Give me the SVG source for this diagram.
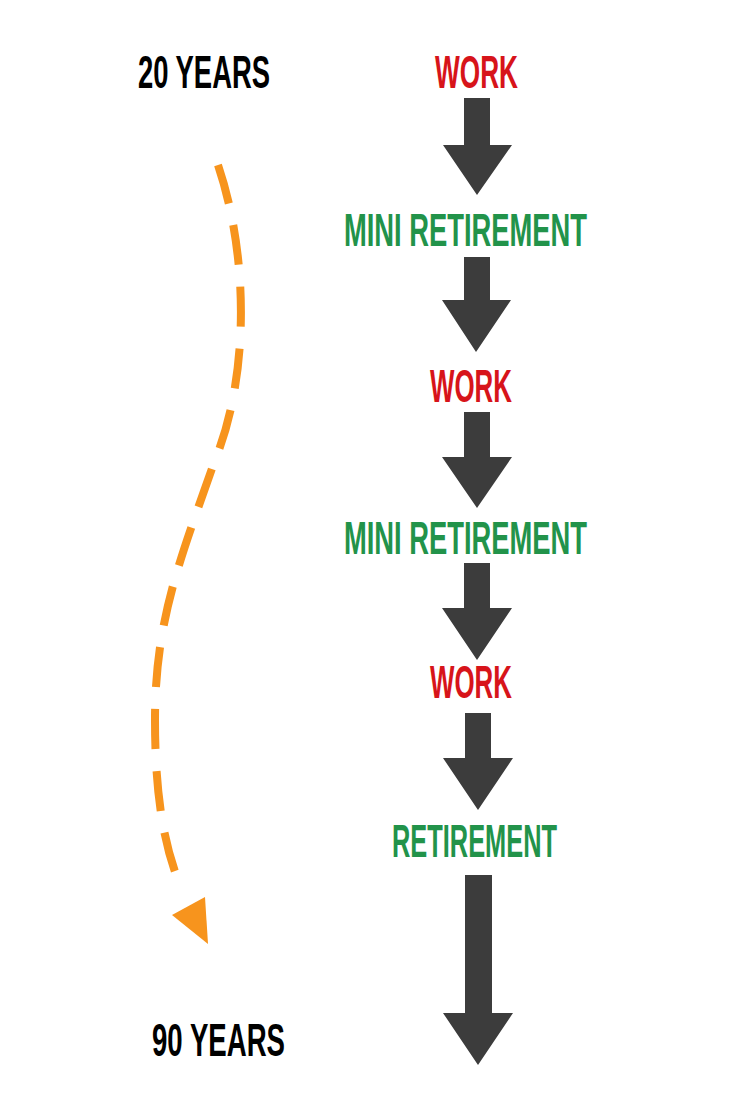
<svg xmlns="http://www.w3.org/2000/svg" width="750" height="1120" viewBox="0 0 750 1120">
<style>
text{font-family:"Liberation Sans Narrow","Liberation Sans",sans-serif;font-size:47px;font-weight:bold}
.k{fill:#000}.r{fill:#d7141a}.g{fill:#22934a}
.a{fill:#3c3c3c}
</style>
<rect width="750" height="1120" fill="#fff"/>
<g id="label-20"><text class="k" x="138" y="88" textLength="132" lengthAdjust="spacingAndGlyphs">20 YEARS</text></g>
<g id="label-90"><text class="k" x="152" y="1056" textLength="133" lengthAdjust="spacingAndGlyphs">90 YEARS</text></g>
<g id="work1"><text class="r" x="435" y="88" textLength="83" lengthAdjust="spacingAndGlyphs">WORK</text></g>
<g id="mini1"><text class="g" x="344" y="246" textLength="243" lengthAdjust="spacingAndGlyphs">MINI RETIREMENT</text></g>
<g id="work2"><text class="r" x="430" y="402" textLength="82" lengthAdjust="spacingAndGlyphs">WORK</text></g>
<g id="mini2"><text class="g" x="344" y="554" textLength="243" lengthAdjust="spacingAndGlyphs">MINI RETIREMENT</text></g>
<g id="work3"><text class="r" x="430" y="698" textLength="82" lengthAdjust="spacingAndGlyphs">WORK</text></g>
<g id="retire"><text class="g" x="392" y="857" textLength="165" lengthAdjust="spacingAndGlyphs">RETIREMENT</text></g>
<g id="connectors">
<polygon class="a" points="464,98 490,98 490,145 512,145 477,195 443,145 464,145"/>
<polygon class="a" points="464,257 490,257 490,300 511,300 476,352 442,300 464,300"/>
<polygon class="a" points="464,412 490,412 490,457 512,457 477,508 442,457 464,457"/>
<polygon class="a" points="464,563 490,563 490,608 512,608 477,660 442,608 464,608"/>
<polygon class="a" points="465,713 491,713 491,758 513,758 478,810 443,758 465,758"/>
<polygon class="a" points="465,875 492,875 492,1013 513,1013 478,1065 443,1013 465,1013"/>
<path d="M218,165 C250,260 248,380 215,460 C180,560 155,620 155,720 C155,800 165,850 182,890" fill="none" stroke="#f7941d" stroke-width="8" stroke-dasharray="40,22"/>
<polygon points="172,915 205,897 208,944" fill="#f7941d"/>
</g>
</svg>
